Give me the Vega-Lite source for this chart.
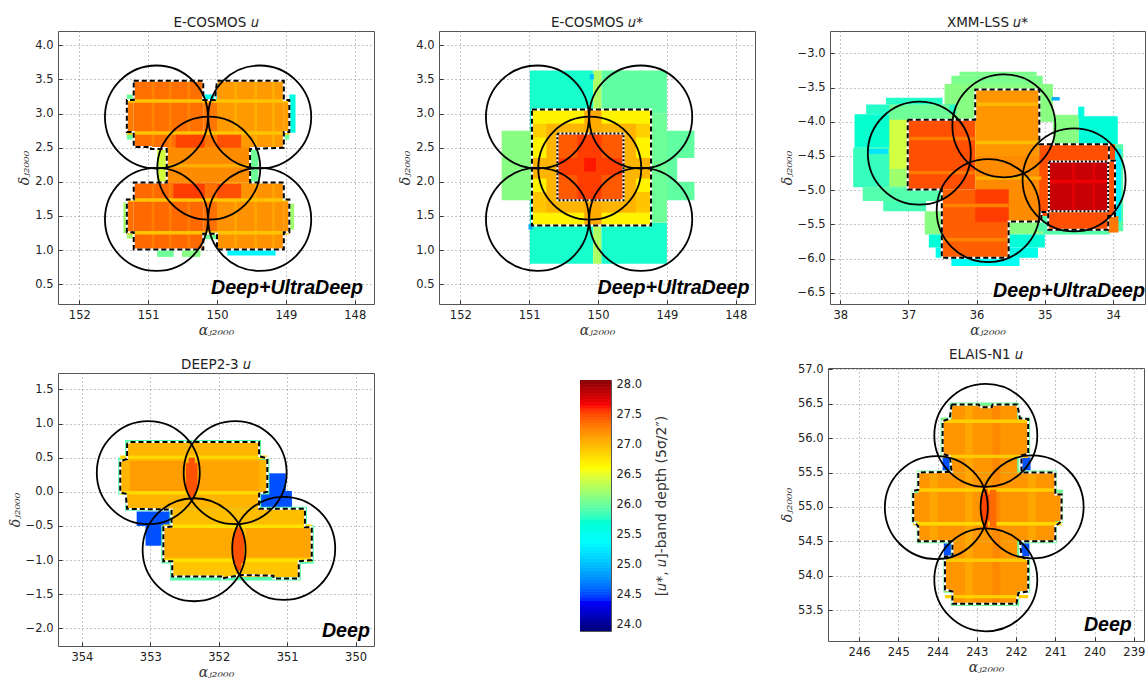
{"$schema":"https://vega.github.io/schema/vega-lite/v6.json","background":"white","padding":{"left":7,"top":15,"right":0,"bottom":0},"autosize":{"type":"pad"},"config":{"view":{"stroke":null},"title":{"font":"DejaVu Sans","fontSize":13.5,"fontWeight":"normal","color":"#222","offset":2},"axis":{"labelFont":"DejaVu Sans","labelFontSize":11.5,"labelColor":"#222","titleFont":"DejaVu Serif","titleFontStyle":"italic","titleFontWeight":"normal","titleFontSize":14,"titleColor":"#333","grid":true,"gridColor":"#888","gridDash":[1,3],"gridOpacity":1,"domain":false,"tickColor":"#333","tickSize":-4,"labelPadding":9,"titlePadding":3}},"datasets":{"c1":[{"ra":148.95,"ra2":148.86,"dec":3.28,"dec2":2.72,"depth":25.6},{"ra":149.03,"ra2":148.95,"dec":2.73,"dec2":2.62,"depth":26},{"ra":151.36,"ra2":151.31,"dec":1.7,"dec2":1.25,"depth":26.2},{"ra":151.31,"ra2":151.21,"dec":3.28,"dec2":3.2,"depth":26},{"ra":151.31,"ra2":151.21,"dec":2.73,"dec2":2.62,"depth":26},{"ra":151.31,"ra2":151.21,"dec":1.26,"dec2":1.17,"depth":26.2},{"ra":148.95,"ra2":148.88,"dec":1.68,"dec2":1.3,"depth":26.2},{"ra":150.87,"ra2":150.63,"dec":1.01,"dec2":0.9,"depth":26},{"ra":150.51,"ra2":150.24,"dec":1.01,"dec2":0.9,"depth":26.1},{"ra":149.85,"ra2":149.15,"dec":1.01,"dec2":0.92,"depth":25.3},{"ra":150.2,"ra2":150,"dec":3.28,"dec2":3.2,"depth":25.5},{"ra":150.2,"ra2":150,"dec":1.24,"dec2":1.16,"depth":26},{"ra":149.52,"ra2":149.4,"dec":2.48,"dec2":1.99,"depth":26},{"ra":150.87,"ra2":150.73,"dec":2.48,"dec2":1.99,"depth":26.4},{"ra":151.21,"ra2":150.2,"dec":3.48,"dec2":2.51,"depth":27.33},{"ra":151.31,"ra2":151.21,"dec":3.2,"dec2":2.73,"depth":27.28},{"ra":150,"ra2":149.03,"dec":3.48,"dec2":2.51,"depth":27.13},{"ra":149.03,"ra2":148.95,"dec":3.2,"dec2":2.73,"depth":27.1},{"ra":150.2,"ra2":150,"dec":3.2,"dec2":2.5,"depth":27.3},{"ra":150.73,"ra2":149.52,"dec":2.51,"dec2":1.99,"depth":27.2},{"ra":151.21,"ra2":150.2,"dec":1.99,"dec2":1.01,"depth":27.36},{"ra":151.31,"ra2":151.21,"dec":1.74,"dec2":1.26,"depth":27.33},{"ra":150.2,"ra2":150,"dec":1.99,"dec2":1.24,"depth":27.33},{"ra":150,"ra2":149.03,"dec":1.99,"dec2":1.01,"depth":27.17},{"ra":149.03,"ra2":148.95,"dec":1.74,"dec2":1.26,"depth":27.15},{"ra":150.95,"ra2":150.91,"dec":3.48,"dec2":2.51,"depth":27.24},{"ra":150.7,"ra2":150.66,"dec":3.48,"dec2":2.51,"depth":27.24},{"ra":150.43,"ra2":150.39,"dec":3.48,"dec2":2.51,"depth":27.24},{"ra":149.75,"ra2":149.71,"dec":3.48,"dec2":2.51,"depth":27.03},{"ra":149.46,"ra2":149.42,"dec":3.48,"dec2":2.51,"depth":27.03},{"ra":149.2,"ra2":149.16,"dec":3.48,"dec2":2.51,"depth":27.03},{"ra":150.95,"ra2":150.91,"dec":1.99,"dec2":1.01,"depth":27.27},{"ra":150.7,"ra2":150.66,"dec":1.99,"dec2":1.01,"depth":27.27},{"ra":150.43,"ra2":150.39,"dec":1.99,"dec2":1.01,"depth":27.27},{"ra":149.75,"ra2":149.71,"dec":1.99,"dec2":1.01,"depth":27.08},{"ra":149.46,"ra2":149.42,"dec":1.99,"dec2":1.01,"depth":27.08},{"ra":149.2,"ra2":149.16,"dec":1.99,"dec2":1.01,"depth":27.08},{"ra":151.31,"ra2":148.95,"dec":3.21,"dec2":3.16,"depth":26.92},{"ra":151.31,"ra2":148.95,"dec":2.74,"dec2":2.69,"depth":26.92},{"ra":150.73,"ra2":149.52,"dec":2.26,"dec2":2.21,"depth":27.03},{"ra":151.31,"ra2":148.95,"dec":1.76,"dec2":1.71,"depth":26.92},{"ra":151.31,"ra2":148.95,"dec":1.28,"dec2":1.23,"depth":26.92},{"ra":150.6,"ra2":150.18,"dec":2.69,"dec2":2.5,"depth":27.5},{"ra":150,"ra2":149.65,"dec":2.69,"dec2":2.5,"depth":27.46},{"ra":150.63,"ra2":150.18,"dec":1.97,"dec2":1.76,"depth":27.52},{"ra":150,"ra2":149.65,"dec":1.97,"dec2":1.76,"depth":27.46}],"l1":[{"i":0,"ra":151.21,"dec":3.48},{"i":1,"ra":150.2,"dec":3.48},{"i":2,"ra":150.2,"dec":3.2},{"i":3,"ra":150.03,"dec":3.2},{"i":4,"ra":150,"dec":3.48},{"i":5,"ra":149.03,"dec":3.48},{"i":6,"ra":149.03,"dec":3.2},{"i":7,"ra":148.95,"dec":3.2},{"i":8,"ra":148.95,"dec":2.73},{"i":9,"ra":149.03,"dec":2.73},{"i":10,"ra":149.03,"dec":2.5},{"i":11,"ra":149.52,"dec":2.48},{"i":12,"ra":149.52,"dec":1.99},{"i":13,"ra":149.03,"dec":1.99},{"i":14,"ra":149.03,"dec":1.74},{"i":15,"ra":148.95,"dec":1.74},{"i":16,"ra":148.95,"dec":1.26},{"i":17,"ra":149.03,"dec":1.26},{"i":18,"ra":149.03,"dec":1.01},{"i":19,"ra":150,"dec":1.01},{"i":20,"ra":150,"dec":1.24},{"i":21,"ra":150.2,"dec":1.24},{"i":22,"ra":150.2,"dec":1.01},{"i":23,"ra":151.21,"dec":1.01},{"i":24,"ra":151.21,"dec":1.26},{"i":25,"ra":151.31,"dec":1.26},{"i":26,"ra":151.31,"dec":1.74},{"i":27,"ra":151.21,"dec":1.74},{"i":28,"ra":151.21,"dec":1.99},{"i":29,"ra":150.73,"dec":1.99},{"i":30,"ra":150.73,"dec":2.48},{"i":31,"ra":150.96,"dec":2.48},{"i":32,"ra":150.96,"dec":2.51},{"i":33,"ra":151.21,"dec":2.51},{"i":34,"ra":151.21,"dec":2.73},{"i":35,"ra":151.31,"dec":2.73},{"i":36,"ra":151.31,"dec":3.2},{"i":37,"ra":151.21,"dec":3.2},{"i":38,"ra":151.21,"dec":3.48}],"r1":[{"ra":150.88,"dec":2.95},{"ra":149.38,"dec":2.95},{"ra":150.12,"dec":2.2},{"ra":150.88,"dec":1.45},{"ra":149.38,"dec":1.45}],"c2":[{"ra":150.99,"ra2":150.07,"dec":3.63,"dec2":0.8,"depth":25.72},{"ra":150.07,"ra2":149.95,"dec":3.63,"dec2":0.8,"depth":26.25},{"ra":149.95,"ra2":149,"dec":3.63,"dec2":3,"depth":25.95},{"ra":149.95,"ra2":149,"dec":1.4,"dec2":0.8,"depth":25.72},{"ra":151.4,"ra2":150.95,"dec":2.75,"dec2":1.73,"depth":26.1},{"ra":149.26,"ra2":148.6,"dec":2.75,"dec2":2.35,"depth":25.95},{"ra":149.26,"ra2":148.85,"dec":2.35,"dec2":2,"depth":25.95},{"ra":149.26,"ra2":148.6,"dec":2,"dec2":1.73,"depth":25.95},{"ra":149.26,"ra2":149,"dec":3,"dec2":1.4,"depth":26},{"ra":150.12,"ra2":150.06,"dec":3.58,"dec2":3.5,"depth":25},{"ra":151.01,"ra2":150.95,"dec":1.38,"dec2":1.3,"depth":24.9},{"ra":150.96,"ra2":149.23,"dec":3.06,"dec2":1.36,"depth":26.65},{"ra":150.96,"ra2":149.23,"dec":2.85,"dec2":2.65,"depth":26.85},{"ra":150.96,"ra2":149.23,"dec":1.85,"dec2":1.55,"depth":26.9},{"ra":150.75,"ra2":149.45,"dec":2.85,"dec2":1.55,"depth":27},{"ra":150.2,"ra2":149.95,"dec":3.06,"dec2":1.36,"depth":27.05},{"ra":150.96,"ra2":149.23,"dec":2.35,"dec2":2.05,"depth":27},{"ra":150.6,"ra2":149.63,"dec":2.71,"dec2":1.73,"depth":27.42},{"ra":150.3,"ra2":149.95,"dec":2.71,"dec2":1.73,"depth":27.52},{"ra":150.6,"ra2":149.63,"dec":2.35,"dec2":2.1,"depth":27.52},{"ra":150.2,"ra2":150.03,"dec":2.35,"dec2":2.15,"depth":27.6}],"l2":[{"i":0,"ra":150.96,"dec":3.06},{"i":1,"ra":149.23,"dec":3.06},{"i":2,"ra":149.23,"dec":1.36},{"i":3,"ra":150.96,"dec":1.36},{"i":4,"ra":150.96,"dec":3.06}],"u2":[{"i":0,"ra":150.59,"dec":2.71},{"i":1,"ra":149.63,"dec":2.71},{"i":2,"ra":149.63,"dec":1.73},{"i":3,"ra":150.59,"dec":1.73},{"i":4,"ra":150.59,"dec":2.71}],"c3":[{"ra":36.25,"ra2":35.12,"dec":-3.27,"dec2":-3.33,"depth":26.05},{"ra":36.37,"ra2":35.03,"dec":-3.33,"dec2":-3.45,"depth":26.05},{"ra":36.47,"ra2":34.88,"dec":-3.45,"dec2":-4,"depth":26.1},{"ra":37.33,"ra2":36.5,"dec":-3.65,"dec2":-3.75,"depth":25.75},{"ra":37.62,"ra2":36.3,"dec":-3.75,"dec2":-3.89,"depth":25.75},{"ra":37.79,"ra2":37.01,"dec":-3.89,"dec2":-4.38,"depth":25.7},{"ra":37.81,"ra2":37.01,"dec":-4.38,"dec2":-4.96,"depth":25.8},{"ra":37.67,"ra2":36.5,"dec":-4.96,"dec2":-5.16,"depth":25.9},{"ra":37.37,"ra2":36.74,"dec":-5.16,"dec2":-5.31,"depth":25.85},{"ra":37.28,"ra2":37.01,"dec":-3.9,"dec2":-4.7,"depth":26.4},{"ra":37.28,"ra2":37.01,"dec":-4.7,"dec2":-4.95,"depth":26.2},{"ra":37.28,"ra2":36.4,"dec":-3.75,"dec2":-3.97,"depth":26},{"ra":37.6,"ra2":37.3,"dec":-4.4,"dec2":-4.47,"depth":25.2},{"ra":36.76,"ra2":35.03,"dec":-5.31,"dec2":-5.65,"depth":26.1},{"ra":36.7,"ra2":35,"dec":-5.65,"dec2":-5.84,"depth":25.65},{"ra":36.6,"ra2":35.1,"dec":-5.84,"dec2":-5.99,"depth":25.55},{"ra":36.37,"ra2":35.37,"dec":-5.99,"dec2":-6.11,"depth":25.45},{"ra":34.88,"ra2":34.5,"dec":-3.9,"dec2":-4.33,"depth":26.1},{"ra":34.5,"ra2":33.93,"dec":-3.92,"dec2":-4.33,"depth":25.65},{"ra":35.1,"ra2":33.85,"dec":-4.33,"dec2":-5.6,"depth":25.9},{"ra":33.97,"ra2":33.88,"dec":-4.4,"dec2":-5.46,"depth":25.3},{"ra":35.03,"ra2":34.05,"dec":-5.58,"dec2":-5.65,"depth":25.9},{"ra":34.51,"ra2":34.42,"dec":-3.78,"dec2":-3.94,"depth":25.6},{"ra":34.9,"ra2":34.78,"dec":-3.64,"dec2":-3.69,"depth":24.9},{"ra":34.07,"ra2":33.92,"dec":-5.38,"dec2":-5.62,"depth":27.3},{"ra":37.01,"ra2":36.02,"dec":-3.97,"dec2":-4.99,"depth":27.46},{"ra":36.02,"ra2":35.08,"dec":-3.53,"dec2":-4.5,"depth":27.15},{"ra":36.02,"ra2":35.05,"dec":-4.5,"dec2":-5.46,"depth":27.2},{"ra":36.51,"ra2":35.53,"dec":-4.99,"dec2":-5.99,"depth":27.4},{"ra":36.02,"ra2":35.53,"dec":-4.99,"dec2":-5.47,"depth":27.52},{"ra":35.08,"ra2":33.97,"dec":-4.33,"dec2":-5.38,"depth":27.46},{"ra":34.95,"ra2":34.07,"dec":-5.32,"dec2":-5.58,"depth":27.46},{"ra":37.01,"ra2":36.02,"dec":-4.22,"dec2":-4.27,"depth":27.28},{"ra":37.01,"ra2":36.02,"dec":-4.72,"dec2":-4.77,"depth":27.28},{"ra":36.02,"ra2":35.08,"dec":-3.72,"dec2":-3.77,"depth":26.97},{"ra":36.02,"ra2":35.08,"dec":-4.28,"dec2":-4.33,"depth":26.95},{"ra":36.02,"ra2":35.05,"dec":-4.8,"dec2":-4.85,"depth":27.02},{"ra":36.51,"ra2":35.53,"dec":-5.2,"dec2":-5.25,"depth":27.25},{"ra":36.51,"ra2":35.53,"dec":-5.7,"dec2":-5.75,"depth":27.25},{"ra":34.94,"ra2":34.07,"dec":-4.58,"dec2":-5.31,"depth":27.82},{"ra":34.94,"ra2":34.07,"dec":-4.85,"dec2":-4.9,"depth":27.68},{"ra":34.6,"ra2":34.56,"dec":-4.58,"dec2":-5.31,"depth":27.72},{"ra":34.3,"ra2":34.26,"dec":-4.58,"dec2":-5.31,"depth":27.72}],"l3":[{"i":0,"ra":37.01,"dec":-3.97},{"i":1,"ra":36.02,"dec":-3.97},{"i":2,"ra":36.02,"dec":-3.53},{"i":3,"ra":35.08,"dec":-3.53},{"i":4,"ra":35.08,"dec":-4.33},{"i":5,"ra":34.06,"dec":-4.33},{"i":6,"ra":34.06,"dec":-4.57},{"i":7,"ra":33.97,"dec":-4.57},{"i":8,"ra":33.97,"dec":-5.38},{"i":9,"ra":34.07,"dec":-5.38},{"i":10,"ra":34.07,"dec":-5.58},{"i":11,"ra":34.95,"dec":-5.58},{"i":12,"ra":34.95,"dec":-5.32},{"i":13,"ra":35.05,"dec":-5.32},{"i":14,"ra":35.05,"dec":-5.46},{"i":15,"ra":35.53,"dec":-5.46},{"i":16,"ra":35.53,"dec":-5.99},{"i":17,"ra":36.51,"dec":-5.99},{"i":18,"ra":36.51,"dec":-4.99},{"i":19,"ra":37.01,"dec":-4.99},{"i":20,"ra":37.01,"dec":-3.97}],"u3":[{"i":0,"ra":34.94,"dec":-4.58},{"i":1,"ra":34.07,"dec":-4.58},{"i":2,"ra":34.07,"dec":-5.31},{"i":3,"ra":34.94,"dec":-5.31},{"i":4,"ra":34.94,"dec":-4.58}],"r3":[{"ra":36.84,"dec":-4.46},{"ra":35.6,"dec":-4.06},{"ra":35.83,"dec":-5.3},{"ra":34.57,"dec":-4.85}],"c4":[{"ra":351.27,"ra2":351.02,"dec":0.27,"dec2":-0.06,"depth":24.5},{"ra":351.39,"ra2":350.93,"dec":0.01,"dec2":-0.23,"depth":24.5},{"ra":353.2,"ra2":352.71,"dec":-0.29,"dec2":-0.5,"depth":24.5},{"ra":353.07,"ra2":352.8,"dec":-0.47,"dec2":-0.79,"depth":24.5},{"ra":353.37,"ra2":351.38,"dec":0.76,"dec2":-0.28,"depth":25.9},{"ra":353.47,"ra2":351.26,"dec":0.5,"dec2":-0.04,"depth":25.9},{"ra":352.72,"ra2":350.71,"dec":-0.22,"dec2":-1.05,"depth":25.9},{"ra":352.84,"ra2":350.61,"dec":-0.49,"dec2":-1.05,"depth":25.9},{"ra":352.71,"ra2":350.8,"dec":-1,"dec2":-1.3,"depth":25.9},{"ra":353.34,"ra2":351.41,"dec":0.73,"dec2":-0.25,"depth":27},{"ra":353.44,"ra2":351.29,"dec":0.47,"dec2":-0.01,"depth":27},{"ra":352.69,"ra2":350.74,"dec":-0.25,"dec2":-1.02,"depth":26.95},{"ra":352.81,"ra2":350.64,"dec":-0.52,"dec2":-1.02,"depth":26.95},{"ra":352.68,"ra2":350.83,"dec":-1.02,"dec2":-1.25,"depth":26.9},{"ra":353.3,"ra2":352.49,"dec":0.45,"dec2":0.01,"depth":27.12},{"ra":352.29,"ra2":351.41,"dec":0.45,"dec2":0.01,"depth":27.08},{"ra":352.8,"ra2":351.8,"dec":-0.52,"dec2":-0.96,"depth":27.05},{"ra":351.6,"ra2":350.65,"dec":-0.52,"dec2":-0.96,"depth":27.08},{"ra":353.44,"ra2":351.29,"dec":0.53,"dec2":0.48,"depth":26.8},{"ra":353.44,"ra2":351.41,"dec":0.01,"dec2":-0.04,"depth":26.8},{"ra":352.81,"ra2":350.64,"dec":-0.48,"dec2":-0.53,"depth":26.75},{"ra":352.81,"ra2":350.64,"dec":-0.98,"dec2":-1.03,"depth":26.75},{"ra":352.48,"ra2":352.31,"dec":0.42,"dec2":0,"depth":27.45},{"ra":352.44,"ra2":352.35,"dec":0.5,"dec2":-0.08,"depth":27.45},{"ra":351.79,"ra2":351.63,"dec":-0.6,"dec2":-1.05,"depth":27.45},{"ra":351.75,"ra2":351.67,"dec":-0.52,"dec2":-1.16,"depth":27.45}],"l4":[{"i":0,"ra":353.29,"dec":0.73},{"i":1,"ra":351.41,"dec":0.73},{"i":2,"ra":351.41,"dec":0.52},{"i":3,"ra":351.29,"dec":0.49},{"i":4,"ra":351.29,"dec":0},{"i":5,"ra":351.41,"dec":-0.03},{"i":6,"ra":351.41,"dec":-0.25},{"i":7,"ra":350.74,"dec":-0.25},{"i":8,"ra":350.74,"dec":-0.52},{"i":9,"ra":350.64,"dec":-0.52},{"i":10,"ra":350.64,"dec":-1},{"i":11,"ra":350.83,"dec":-1.02},{"i":12,"ra":350.83,"dec":-1.27},{"i":13,"ra":351.2,"dec":-1.27},{"i":14,"ra":351.2,"dec":-1.23},{"i":15,"ra":351.68,"dec":-1.22},{"i":16,"ra":351.95,"dec":-1.27},{"i":17,"ra":351.95,"dec":-1.24},{"i":18,"ra":352.68,"dec":-1.24},{"i":19,"ra":352.68,"dec":-1.02},{"i":20,"ra":352.81,"dec":-1.02},{"i":21,"ra":352.81,"dec":-0.52},{"i":22,"ra":352.69,"dec":-0.51},{"i":23,"ra":352.69,"dec":-0.26},{"i":24,"ra":353.34,"dec":-0.25},{"i":25,"ra":353.36,"dec":-0.03},{"i":26,"ra":353.44,"dec":-0.01},{"i":27,"ra":353.44,"dec":0.45},{"i":28,"ra":353.34,"dec":0.48},{"i":29,"ra":353.34,"dec":0.7},{"i":30,"ra":353.29,"dec":0.73}],"r4":[{"ra":353.03,"dec":0.28},{"ra":351.76,"dec":0.28},{"ra":352.36,"dec":-0.85},{"ra":351.05,"dec":-0.83}],"c5":[{"ra":243.87,"ra2":243.62,"dec":55.72,"dec2":55.53,"depth":24.5},{"ra":241.88,"ra2":241.63,"dec":55.72,"dec2":55.53,"depth":24.5},{"ra":243.84,"ra2":243.62,"dec":54.47,"dec2":54.28,"depth":24.5},{"ra":241.88,"ra2":241.66,"dec":54.47,"dec2":54.28,"depth":24.5},{"ra":243.69,"ra2":241.92,"dec":56.52,"dec2":55.5,"depth":26},{"ra":243.92,"ra2":241.64,"dec":56.3,"dec2":55.75,"depth":26},{"ra":244.53,"ra2":240.96,"dec":55.53,"dec2":54.47,"depth":26},{"ra":244.66,"ra2":240.8,"dec":55.25,"dec2":54.77,"depth":26},{"ra":243.66,"ra2":241.92,"dec":54.5,"dec2":53.56,"depth":26},{"ra":243.85,"ra2":241.64,"dec":54.26,"dec2":53.75,"depth":26},{"ra":243.64,"ra2":241.97,"dec":56.47,"dec2":55.5,"depth":27.15},{"ra":243.87,"ra2":241.69,"dec":56.28,"dec2":55.75,"depth":27.15},{"ra":244.49,"ra2":241,"dec":55.5,"dec2":54.5,"depth":27.15},{"ra":244.62,"ra2":240.84,"dec":55.2,"dec2":54.79,"depth":27.15},{"ra":243.62,"ra2":241.97,"dec":54.5,"dec2":53.59,"depth":27.15},{"ra":243.81,"ra2":241.69,"dec":54.28,"dec2":53.77,"depth":27.15},{"ra":243.3,"ra2":243.1,"dec":56.47,"dec2":53.59,"depth":27.07},{"ra":242.6,"ra2":242.4,"dec":56.47,"dec2":53.59,"depth":27.22},{"ra":244.2,"ra2":244,"dec":55.5,"dec2":54.5,"depth":27.07},{"ra":241.7,"ra2":241.5,"dec":55.5,"dec2":54.5,"depth":27.07},{"ra":243.87,"ra2":241.69,"dec":56.27,"dec2":56.22,"depth":26.85},{"ra":243.87,"ra2":241.69,"dec":55.76,"dec2":55.71,"depth":26.88},{"ra":244.49,"ra2":241,"dec":55.27,"dec2":55.22,"depth":26.85},{"ra":244.62,"ra2":240.84,"dec":54.78,"dec2":54.73,"depth":26.8},{"ra":243.81,"ra2":241.69,"dec":54.25,"dec2":54.2,"depth":26.88},{"ra":243.81,"ra2":241.69,"dec":53.72,"dec2":53.67,"depth":26.85},{"ra":242.88,"ra2":242.67,"dec":55.18,"dec2":54.8,"depth":27.5},{"ra":242.82,"ra2":242.72,"dec":55.26,"dec2":54.7,"depth":27.5},{"ra":242.67,"ra2":242.5,"dec":55.25,"dec2":54.7,"depth":27.35}],"l5":[{"i":0,"ra":243.64,"dec":56.49},{"i":1,"ra":242.96,"dec":56.49},{"i":2,"ra":242.88,"dec":56.45},{"i":3,"ra":242.62,"dec":56.45},{"i":4,"ra":242.6,"dec":56.49},{"i":5,"ra":241.97,"dec":56.49},{"i":6,"ra":241.9,"dec":56.29},{"i":7,"ra":241.69,"dec":56.28},{"i":8,"ra":241.69,"dec":55.77},{"i":9,"ra":241.86,"dec":55.75},{"i":10,"ra":241.86,"dec":55.5},{"i":11,"ra":241,"dec":55.5},{"i":12,"ra":241,"dec":55.18},{"i":13,"ra":240.84,"dec":55.18},{"i":14,"ra":240.84,"dec":54.79},{"i":15,"ra":241,"dec":54.72},{"i":16,"ra":241,"dec":54.5},{"i":17,"ra":241.9,"dec":54.5},{"i":18,"ra":241.86,"dec":54.28},{"i":19,"ra":241.69,"dec":54.23},{"i":20,"ra":241.69,"dec":53.77},{"i":21,"ra":241.94,"dec":53.75},{"i":22,"ra":241.99,"dec":53.59},{"i":23,"ra":243.62,"dec":53.59},{"i":24,"ra":243.62,"dec":53.77},{"i":25,"ra":243.81,"dec":53.8},{"i":26,"ra":243.81,"dec":54.28},{"i":27,"ra":243.62,"dec":54.28},{"i":28,"ra":243.62,"dec":54.5},{"i":29,"ra":244.49,"dec":54.5},{"i":30,"ra":244.49,"dec":54.72},{"i":31,"ra":244.62,"dec":54.79},{"i":32,"ra":244.62,"dec":55.23},{"i":33,"ra":244.49,"dec":55.25},{"i":34,"ra":244.49,"dec":55.5},{"i":35,"ra":243.64,"dec":55.51},{"i":36,"ra":243.69,"dec":55.74},{"i":37,"ra":243.87,"dec":55.77},{"i":38,"ra":243.87,"dec":56.25},{"i":39,"ra":243.69,"dec":56.28},{"i":40,"ra":243.64,"dec":56.49}],"r5":[{"ra":242.77,"dec":56.04},{"ra":244.03,"dec":54.99},{"ra":241.59,"dec":55},{"ra":242.77,"dec":53.94}],"bar":[{"depth":23.9,"depth2":23.96},{"depth":23.95,"depth2":24.01},{"depth":24,"depth2":24.06},{"depth":24.05,"depth2":24.11},{"depth":24.1,"depth2":24.16},{"depth":24.15,"depth2":24.21},{"depth":24.2,"depth2":24.26},{"depth":24.25,"depth2":24.31},{"depth":24.3,"depth2":24.36},{"depth":24.35,"depth2":24.41},{"depth":24.4,"depth2":24.46},{"depth":24.45,"depth2":24.51},{"depth":24.5,"depth2":24.56},{"depth":24.55,"depth2":24.61},{"depth":24.6,"depth2":24.66},{"depth":24.65,"depth2":24.71},{"depth":24.7,"depth2":24.76},{"depth":24.75,"depth2":24.81},{"depth":24.8,"depth2":24.86},{"depth":24.85,"depth2":24.91},{"depth":24.9,"depth2":24.96},{"depth":24.95,"depth2":25.01},{"depth":25,"depth2":25.06},{"depth":25.05,"depth2":25.11},{"depth":25.1,"depth2":25.16},{"depth":25.15,"depth2":25.21},{"depth":25.2,"depth2":25.26},{"depth":25.25,"depth2":25.31},{"depth":25.3,"depth2":25.36},{"depth":25.35,"depth2":25.41},{"depth":25.4,"depth2":25.46},{"depth":25.45,"depth2":25.51},{"depth":25.5,"depth2":25.56},{"depth":25.55,"depth2":25.61},{"depth":25.6,"depth2":25.66},{"depth":25.65,"depth2":25.71},{"depth":25.7,"depth2":25.76},{"depth":25.75,"depth2":25.81},{"depth":25.8,"depth2":25.86},{"depth":25.85,"depth2":25.91},{"depth":25.9,"depth2":25.96},{"depth":25.95,"depth2":26.01},{"depth":26,"depth2":26.06},{"depth":26.05,"depth2":26.11},{"depth":26.1,"depth2":26.16},{"depth":26.15,"depth2":26.21},{"depth":26.2,"depth2":26.26},{"depth":26.25,"depth2":26.31},{"depth":26.3,"depth2":26.36},{"depth":26.35,"depth2":26.41},{"depth":26.4,"depth2":26.46},{"depth":26.45,"depth2":26.51},{"depth":26.5,"depth2":26.56},{"depth":26.55,"depth2":26.61},{"depth":26.6,"depth2":26.66},{"depth":26.65,"depth2":26.71},{"depth":26.7,"depth2":26.76},{"depth":26.75,"depth2":26.81},{"depth":26.8,"depth2":26.86},{"depth":26.85,"depth2":26.91},{"depth":26.9,"depth2":26.96},{"depth":26.95,"depth2":27.01},{"depth":27,"depth2":27.06},{"depth":27.05,"depth2":27.11},{"depth":27.1,"depth2":27.16},{"depth":27.15,"depth2":27.21},{"depth":27.2,"depth2":27.26},{"depth":27.25,"depth2":27.31},{"depth":27.3,"depth2":27.36},{"depth":27.35,"depth2":27.41},{"depth":27.4,"depth2":27.46},{"depth":27.45,"depth2":27.51},{"depth":27.5,"depth2":27.56},{"depth":27.55,"depth2":27.61},{"depth":27.6,"depth2":27.66},{"depth":27.65,"depth2":27.71},{"depth":27.7,"depth2":27.76},{"depth":27.75,"depth2":27.81},{"depth":27.8,"depth2":27.86},{"depth":27.85,"depth2":27.91},{"depth":27.9,"depth2":27.96},{"depth":27.95,"depth2":28.01},{"depth":28,"depth2":28.06},{"depth":28.05,"depth2":28.08}]},"spacing":2,"vconcat":[{"spacing":23,"hconcat":[{"spacing":23,"hconcat":[{"width":316,"height":273,"view":{"stroke":"#555"},"title":"E-COSMOS  𝑢","encoding":{"x":{"field":"ra","type":"quantitative","title":"αⱼ₂₀₀₀","scale":{"domain":[152.31,147.72],"nice":false,"zero":false},"axis":{"values":[152,151,150,149,148],"format":".0f"}},"y":{"field":"dec","type":"quantitative","title":"δⱼ₂₀₀₀","scale":{"domain":[0.21,4.21],"nice":false,"zero":false},"axis":{"values":[0.5,1,1.5,2,2.5,3,3.5,4],"format":".1f"}}},"layer":[{"data":{"name":"c1"},"mark":{"type":"rect"},"encoding":{"x2":{"field":"ra2"},"y2":{"field":"dec2"},"color":{"field":"depth","type":"quantitative","legend":null,"scale":{"domain":[23.9,24.36,25.36,26.58,27.62,28.08],"range":["#00007f","#0000ff","#00ffff","#ffff00","#ff0000","#7f0000"]}}}},{"data":{"name":"l1"},"mark":{"type":"line","color":"white","strokeWidth":2},"encoding":{"order":{"field":"i"}}},{"data":{"name":"l1"},"mark":{"type":"line","color":"black","strokeWidth":2,"strokeDash":[5,3]},"encoding":{"order":{"field":"i"}}},{"data":{"name":"r1"},"mark":{"type":"point","shape":"circle","filled":false,"stroke":"black","strokeWidth":1.8,"size":10609,"opacity":1}},{"data":{"values":[{"ra":147.88,"dec":0.36,"label":"Deep+UltraDeep"}]},"mark":{"type":"text","font":"Liberation Sans","fontWeight":"bold","fontStyle":"italic","fontSize":19.6,"align":"right","baseline":"alphabetic","color":"black"},"encoding":{"text":{"field":"label"}}}]},{"width":316,"height":273,"view":{"stroke":"#555"},"title":"E-COSMOS  𝑢*","encoding":{"x":{"field":"ra","type":"quantitative","title":"αⱼ₂₀₀₀","scale":{"domain":[152.31,147.72],"nice":false,"zero":false},"axis":{"values":[152,151,150,149,148],"format":".0f"}},"y":{"field":"dec","type":"quantitative","title":"δⱼ₂₀₀₀","scale":{"domain":[0.21,4.21],"nice":false,"zero":false},"axis":{"values":[0.5,1,1.5,2,2.5,3,3.5,4],"format":".1f"}}},"layer":[{"data":{"name":"c2"},"mark":{"type":"rect"},"encoding":{"x2":{"field":"ra2"},"y2":{"field":"dec2"},"color":{"field":"depth","type":"quantitative","legend":null,"scale":{"domain":[23.9,24.36,25.36,26.58,27.62,28.08],"range":["#00007f","#0000ff","#00ffff","#ffff00","#ff0000","#7f0000"]}}}},{"data":{"name":"l2"},"mark":{"type":"line","color":"white","strokeWidth":2},"encoding":{"order":{"field":"i"}}},{"data":{"name":"l2"},"mark":{"type":"line","color":"black","strokeWidth":2,"strokeDash":[5,3]},"encoding":{"order":{"field":"i"}}},{"data":{"name":"u2"},"mark":{"type":"line","color":"white","strokeWidth":2},"encoding":{"order":{"field":"i"}}},{"data":{"name":"u2"},"mark":{"type":"line","color":"black","strokeWidth":2,"strokeDash":[2,2]},"encoding":{"order":{"field":"i"}}},{"data":{"name":"r1"},"mark":{"type":"point","shape":"circle","filled":false,"stroke":"black","strokeWidth":1.8,"size":10609,"opacity":1}},{"data":{"values":[{"ra":147.8,"dec":0.36,"label":"Deep+UltraDeep"}]},"mark":{"type":"text","font":"Liberation Sans","fontWeight":"bold","fontStyle":"italic","fontSize":19.6,"align":"right","baseline":"alphabetic","color":"black"},"encoding":{"text":{"field":"label"}}}]}]},{"width":315,"height":273,"view":{"stroke":"#555"},"title":"XMM-LSS  𝑢*","encoding":{"x":{"field":"ra","type":"quantitative","title":"αⱼ₂₀₀₀","scale":{"domain":[38.15,33.53],"nice":false,"zero":false},"axis":{"values":[38,37,36,35,34],"format":".0f"}},"y":{"field":"dec","type":"quantitative","title":"δⱼ₂₀₀₀","scale":{"domain":[-6.665,-2.674],"nice":false,"zero":false},"axis":{"values":[-6.5,-6,-5.5,-5,-4.5,-4,-3.5,-3],"format":".1f","labelExpr":"replace(datum.label,'-','−')"}}},"layer":[{"data":{"name":"c3"},"mark":{"type":"rect"},"encoding":{"x2":{"field":"ra2"},"y2":{"field":"dec2"},"color":{"field":"depth","type":"quantitative","legend":null,"scale":{"domain":[23.9,24.36,25.36,26.58,27.62,28.08],"range":["#00007f","#0000ff","#00ffff","#ffff00","#ff0000","#7f0000"]}}}},{"data":{"name":"l3"},"mark":{"type":"line","color":"white","strokeWidth":2},"encoding":{"order":{"field":"i"}}},{"data":{"name":"l3"},"mark":{"type":"line","color":"black","strokeWidth":2,"strokeDash":[5,3]},"encoding":{"order":{"field":"i"}}},{"data":{"name":"u3"},"mark":{"type":"line","color":"white","strokeWidth":2},"encoding":{"order":{"field":"i"}}},{"data":{"name":"u3"},"mark":{"type":"line","color":"black","strokeWidth":2,"strokeDash":[2,2]},"encoding":{"order":{"field":"i"}}},{"data":{"name":"r3"},"mark":{"type":"point","shape":"circle","filled":false,"stroke":"black","strokeWidth":1.8,"size":10609,"opacity":1}},{"data":{"values":[{"ra":33.53,"dec":-6.56,"label":"Deep+UltraDeep"}]},"mark":{"type":"text","font":"Liberation Sans","fontWeight":"bold","fontStyle":"italic","fontSize":19.6,"align":"right","baseline":"alphabetic","color":"black"},"encoding":{"text":{"field":"label"}}}]}]},{"spacing":109,"hconcat":[{"spacing":204,"hconcat":[{"spacing":0,"vconcat":[{"width":10,"height":14,"data":{"values":[{"blank":1}]},"mark":{"type":"point","opacity":0}},{"width":316,"height":273,"view":{"stroke":"#555"},"title":"DEEP2-3  𝑢","encoding":{"x":{"field":"ra","type":"quantitative","title":"αⱼ₂₀₀₀","scale":{"domain":[354.35,349.73],"nice":false,"zero":false},"axis":{"values":[354,353,352,351,350],"format":".0f"}},"y":{"field":"dec","type":"quantitative","title":"δⱼ₂₀₀₀","scale":{"domain":[-2.26,1.74],"nice":false,"zero":false},"axis":{"values":[-2,-1.5,-1,-0.5,0,0.5,1,1.5],"format":".1f","labelExpr":"replace(datum.label,'-','−')"}}},"layer":[{"data":{"name":"c4"},"mark":{"type":"rect"},"encoding":{"x2":{"field":"ra2"},"y2":{"field":"dec2"},"color":{"field":"depth","type":"quantitative","legend":null,"scale":{"domain":[23.9,24.36,25.36,26.58,27.62,28.08],"range":["#00007f","#0000ff","#00ffff","#ffff00","#ff0000","#7f0000"]}}}},{"data":{"name":"l4"},"mark":{"type":"line","color":"white","strokeWidth":2},"encoding":{"order":{"field":"i"}}},{"data":{"name":"l4"},"mark":{"type":"line","color":"black","strokeWidth":2,"strokeDash":[5,3]},"encoding":{"order":{"field":"i"}}},{"data":{"name":"r4"},"mark":{"type":"point","shape":"circle","filled":false,"stroke":"black","strokeWidth":1.8,"size":10609,"opacity":1}},{"data":{"values":[{"ra":349.79,"dec":-2.13,"label":"Deep"}]},"mark":{"type":"text","font":"Liberation Sans","fontWeight":"bold","fontStyle":"italic","fontSize":19.6,"align":"right","baseline":"alphabetic","color":"black"},"encoding":{"text":{"field":"label"}}}]}]},{"spacing":0,"vconcat":[{"width":10,"height":35,"data":{"values":[{"blank":1}]},"mark":{"type":"point","opacity":0}},{"width":31,"height":251,"view":{"stroke":"#555"},"data":{"name":"bar"},"mark":{"type":"rect"},"encoding":{"y":{"field":"depth","type":"quantitative","title":"[𝑢*, 𝑢]-band depth  (5σ/2″)","scale":{"domain":[23.9,28.08],"nice":false,"zero":false},"axis":{"orient":"right","grid":false,"values":[24,24.5,25,25.5,26,26.5,27,27.5,28],"format":".1f","tickSize":-4,"labelPadding":9,"titleFont":"DejaVu Sans","titleFontStyle":"normal","titleFontSize":14,"titlePadding":13,"titleAngle":270,"titleBaseline":"top"}},"y2":{"field":"depth2"},"color":{"field":"depth","type":"quantitative","legend":null,"scale":{"domain":[23.9,24.36,25.36,26.58,27.62,28.08],"range":["#00007f","#0000ff","#00ffff","#ffff00","#ff0000","#7f0000"]}}}}]}]},{"spacing":0,"vconcat":[{"width":10,"height":1,"data":{"values":[{"blank":1}]},"mark":{"type":"point","opacity":0}},{"width":316,"height":273,"view":{"stroke":"#555"},"title":"ELAIS-N1  𝑢","encoding":{"x":{"field":"ra","type":"quantitative","title":"αⱼ₂₀₀₀","scale":{"domain":[246.79,238.74],"nice":false,"zero":false},"axis":{"values":[246,245,244,243,242,241,240,239],"format":".0f"}},"y":{"field":"dec","type":"quantitative","title":"δⱼ₂₀₀₀","scale":{"domain":[53.05,57.02],"nice":false,"zero":false},"axis":{"values":[53.5,54,54.5,55,55.5,56,56.5,57],"format":".1f"}}},"layer":[{"data":{"name":"c5"},"mark":{"type":"rect"},"encoding":{"x2":{"field":"ra2"},"y2":{"field":"dec2"},"color":{"field":"depth","type":"quantitative","legend":null,"scale":{"domain":[23.9,24.36,25.36,26.58,27.62,28.08],"range":["#00007f","#0000ff","#00ffff","#ffff00","#ff0000","#7f0000"]}}}},{"data":{"name":"l5"},"mark":{"type":"line","color":"white","strokeWidth":2},"encoding":{"order":{"field":"i"}}},{"data":{"name":"l5"},"mark":{"type":"line","color":"black","strokeWidth":2,"strokeDash":[5,3]},"encoding":{"order":{"field":"i"}}},{"data":{"name":"r5"},"mark":{"type":"point","shape":"circle","filled":false,"stroke":"black","strokeWidth":1.8,"size":10609,"opacity":1}},{"data":{"values":[{"ra":239.05,"dec":53.19,"label":"Deep"}]},"mark":{"type":"text","font":"Liberation Sans","fontWeight":"bold","fontStyle":"italic","fontSize":19.6,"align":"right","baseline":"alphabetic","color":"black"},"encoding":{"text":{"field":"label"}}}]}]}]}]}
